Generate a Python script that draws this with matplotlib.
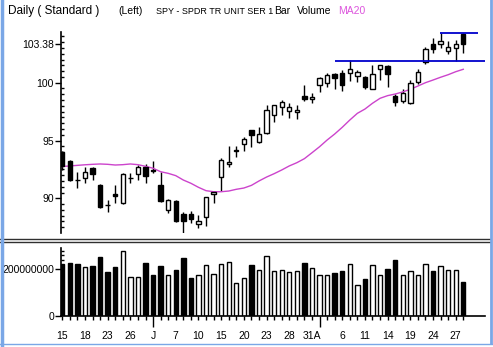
import numpy as np
import matplotlib.pyplot as plt
from matplotlib.lines import Line2D
from matplotlib.transforms import blended_transform_factory

plt.rcParams['font.family'] = ['Liberation Sans', 'DejaVu Sans']

# daily bars, oldest first
opens = [94.03, 93.25, 91.62, 91.73, 92.60, 91.15, 89.45, 90.35, 89.62, 91.72,
         92.10, 92.68, 92.42, 91.15, 88.99, 89.77, 88.64, 88.64, 87.78, 88.36,
         90.37, 91.82, 93.00, 94.05, 94.67, 95.91, 94.90, 95.62, 97.18, 97.90,
         97.58, 97.44, 98.82, 98.56, 99.78, 99.95, 100.75, 100.81, 100.87, 100.60,
         100.47, 99.46, 101.16, 101.47, 98.85, 98.44, 98.27, 100.03, 101.82, 103.35,
         103.35, 102.77, 103.03, 104.21]
highs = [94.10, 93.30, 92.30, 92.68, 92.70, 91.20, 89.85, 91.15, 92.15, 92.20,
         92.88, 92.97, 93.23, 92.30, 89.90, 89.85, 88.84, 88.90, 88.56, 90.14,
         90.66, 93.46, 94.52, 94.52, 95.33, 95.95, 96.19, 98.07, 98.10, 98.50,
         98.27, 98.07, 99.80, 99.08, 100.52, 100.81, 100.81, 101.10, 101.96, 101.10,
         100.60, 101.53, 101.55, 101.50, 99.00, 99.43, 100.23, 101.19, 103.06, 103.84,
         104.27, 103.60, 103.69, 104.27]
lows = [92.45, 91.50, 90.87, 91.30, 91.58, 89.20, 88.84, 89.62, 89.55, 91.30,
        91.58, 91.30, 92.16, 89.70, 88.70, 87.98, 87.02, 87.89, 87.40, 87.60,
        89.57, 90.66, 92.73, 93.55, 94.12, 94.41, 94.76, 95.56, 96.63, 97.20,
        96.92, 96.83, 98.44, 98.22, 99.22, 99.65, 99.43, 99.30, 100.17, 100.09,
        99.43, 99.43, 100.23, 99.65, 98.01, 98.27, 98.13, 99.86, 101.59, 102.54,
        102.98, 102.46, 101.88, 102.54]
closes = [92.79, 91.58, 91.55, 92.25, 92.08, 89.27, 89.38, 90.20, 92.08, 91.80,
          92.68, 91.96, 92.38, 89.77, 89.85, 88.06, 88.04, 88.18, 88.04, 90.09,
          90.57, 93.31, 93.14, 94.15, 95.10, 95.50, 95.54, 97.64, 98.07, 98.33,
          97.87, 97.64, 98.59, 98.74, 100.38, 100.67, 100.38, 99.80, 101.16, 100.90,
          99.65, 100.75, 101.53, 100.73, 98.30, 99.08, 99.95, 100.90, 102.89, 102.89,
          103.63, 103.06, 103.32, 103.32]
ma20 = [92.75, 92.80, 92.85, 92.90, 92.94, 92.97, 92.94, 92.88, 92.91, 92.97,
        92.91, 92.77, 92.60, 92.30, 92.16, 91.96, 91.58, 91.30, 90.95, 90.66,
        90.57, 90.57, 90.63, 90.78, 90.89, 91.12, 91.50, 91.84, 92.13, 92.45,
        92.80, 93.08, 93.43, 93.94, 94.46, 95.04, 95.56, 96.14, 96.77, 97.35,
        97.72, 98.22, 98.65, 98.88, 99.02, 99.20, 99.43, 99.71, 100.00, 100.23,
        100.47, 100.69, 100.95, 101.16]
volume = [223, 227, 223, 209, 214, 252, 188, 209, 278, 166,
          166, 227, 175, 214, 175, 196, 249, 163, 175, 219,
          180, 224, 230, 141, 162, 219, 197, 257, 194, 197,
          187, 193, 227, 204, 175, 175, 184, 193, 223, 132,
          158, 219, 175, 201, 240, 175, 193, 175, 223, 193,
          214, 197, 197, 145]
volume = [v * 1e6 for v in volume]

date_pos = [0, 3, 6, 9, 12, 15, 18, 21, 24, 27, 30, 33, 37, 40, 43, 46, 49, 52]
date_labels = ['15', '18', '23', '26', 'J', '7', '10', '15', '20', '23', '28',
               '31A', '6', '11', '14', '19', '24', '27']
month_starts = [12, 34]

# trend lines: (start bar, end bar, level)
support = (36.0, 55.87, 101.88)
resistance = (49.9, 54.94, 104.27)

W, H = 493, 347
fig = plt.figure(figsize=(W / 100, H / 100), dpi=100)
fig.patch.set_facecolor('white')


def px_axes(left, top, right, bottom):
    return fig.add_axes([left / W, 1 - bottom / H, (right - left) / W, (bottom - top) / H])


ax = px_axes(61, 31.7, 485, 233)
axv = px_axes(61, 248.3, 485, 315.7)

x = np.arange(len(closes))
o = np.array(opens)
c = np.array(closes)
up = c >= o
xlim = (-0.17, 55.87)
w = 0.58

# price panel
ax.vlines(x, lows, highs, color='black', lw=1)
body_lo = np.minimum(o, c)
body_h = np.maximum(np.abs(c - o), 0.02)
ax.bar(x, body_h, bottom=body_lo, width=w,
       color=np.where(up, 'white', 'black'), edgecolor='black', lw=1, zorder=3)
ax.plot(x, ma20, color='#cc44cc', lw=1, zorder=2)
ax.hlines([support[2]], support[0], support[1], color='#0000cc', lw=1.3, zorder=4)
ax.hlines([resistance[2]], resistance[0], resistance[1], color='#0000cc', lw=1.3, zorder=4)

ax.set_xlim(*xlim)
ax.set_ylim(87.0, 104.41)
for s in ['top', 'right', 'bottom']:
    ax.spines[s].set_visible(False)
ax.spines['left'].set_linewidth(1.2)
ax.set_xticks([])
ax.set_yticks([90, 95, 100, 103.38])
ax.set_yticklabels(['90', '95', '100', '103.38'])
ax.set_yticks(np.arange(87.5, 104.4, 0.5), minor=True)
ax.tick_params(axis='y', which='major', length=4, width=1, direction='out', labelsize=7.5, pad=1)
ax.tick_params(axis='y', which='minor', length=2, width=1, direction='in')

# volume panel
axv.bar(x, volume, width=w, color=np.where(up, 'white', 'black'),
        edgecolor='black', lw=1)
axv.set_xlim(*xlim)
axv.set_ylim(0, 290e6)
for s in ['top', 'right']:
    axv.spines[s].set_visible(False)
axv.spines['left'].set_linewidth(1.2)
axv.spines['bottom'].set_linewidth(1.2)
axv.set_yticks([0, 200e6])
axv.set_yticklabels(['0', '200000000'])
axv.set_yticks(np.arange(20e6, 290e6, 20e6), minor=True)
axv.tick_params(axis='y', which='major', length=4, width=1, direction='out', labelsize=7.5, pad=1)
axv.tick_params(axis='y', which='minor', length=2, width=1, direction='in')
axv.set_xticks(month_starts)
axv.set_xticklabels([])
axv.set_xticks(x, minor=True)
axv.tick_params(axis='x', which='major', length=8, width=1, direction='out')
axv.tick_params(axis='x', which='minor', length=3, width=1, direction='out')
tr = blended_transform_factory(axv.transData, axv.transAxes)
for p, lab in zip(date_pos, date_labels):
    axv.text(p, -0.30, lab, transform=tr, ha='center', va='center', fontsize=7.5)

# header line: (x in px, text, size, colour)
hdr = [(8, 'Daily ( Standard )', 8.5, 'black'),
       (118, '(Left)', 7.5, 'black'), (156, 'SPY - SPDR TR UNIT SER 1', 6.5, 'black'),
       (274, 'Bar', 7.5, 'black'), (297, 'Volume', 7.5, 'black'),
       (338, 'MA20', 7.5, '#dd55dd')]
for hx, txt, fs, col in hdr:
    fig.text(hx / W, 1 - 11 / H, txt, color=col, fontsize=fs, ha='left', va='center')

# panel separator and window frame
for yy in (239.3, 241.7):
    fig.add_artist(Line2D([0, 490 / W], [1 - yy / H] * 2, color='#303030', lw=1))
frame = '#7aa7e6'
fig.add_artist(Line2D([1.5 / W] * 2, [0, 1], color=frame, lw=2.5))
fig.add_artist(Line2D([490.5 / W] * 2, [1 - 343 / H, 1], color=frame, lw=2))
fig.add_artist(Line2D([0, 1], [1 - 343.5 / H] * 2, color=frame, lw=1))

fig.savefig('out.png', dpi=100)
